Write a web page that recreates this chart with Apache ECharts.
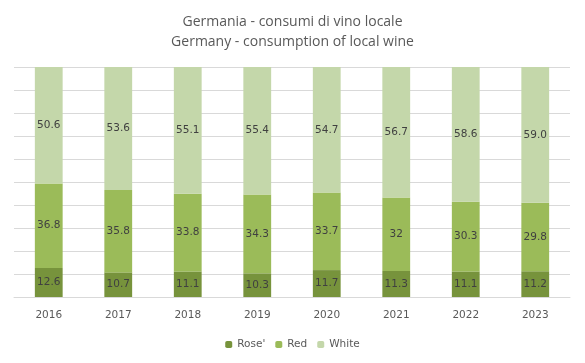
<!DOCTYPE html>
<html><head><meta charset="utf-8">
<script src="https://cdn.jsdelivr.net/npm/echarts@6/dist/echarts.min.js"></script>
<style>html,body{margin:0;padding:0;background:#fff}#c{width:585px;height:363px}</style>
</head><body><div id="c"></div>
<script>
const years = ['2016','2017','2018','2019','2020','2021','2022','2023'];
const rose = [12.6, 10.7, 11.1, 10.3, 11.7, 11.3, 11.1, 11.2];
const red = [36.8, 35.8, 33.8, 34.3, 33.7, 32, 30.3, 29.8];
const white = [50.6, 53.6, 55.1, 55.4, 54.7, 56.7, 58.6, 59.0];
const roseLabels = ['12.6','10.7','11.1','10.3','11.7','11.3','11.1','11.2'];
const redLabels = ['36.8','35.8','33.8','34.3','33.7','32','30.3','29.8'];
const whiteLabels = ['50.6','53.6','55.1','55.4','54.7','56.7','58.6','59.0'];

const chart = echarts.init(document.getElementById('c'));
const titleFont = '"Open Sans", "Liberation Sans", sans-serif';
const font = '"DejaVu Sans", sans-serif';
function mk(name, data, labels, color) {
  return {
    name, type: 'bar', stack: 'a', data, barWidth: '40%',
    itemStyle: { color },
    label: { show: true, position: 'inside', color: '#404040', fontSize: 10.5, fontFamily: font,
      formatter: p => labels[p.dataIndex] }
  };
}
chart.setOption({
  animation: false,
  title: {
    text: 'Germania - consumi di vino locale\nGermany - consumption of local wine',
    left: 'center', top: 7,
    textStyle: { fontSize: 14, fontWeight: 'normal', color: '#595959', fontFamily: titleFont, lineHeight: 20 }
  },
  legend: {
    bottom: 8, left: 'center', itemWidth: 7, itemHeight: 7, itemGap: 10,
    textStyle: { fontSize: 10.5, color: '#595959', fontFamily: font },
    data: ["Rose'", 'Red', 'White']
  },
  grid: { left: 14, right: 15, top: 67, bottom: 66 },
  xAxis: {
    type: 'category', data: years,
    axisLine: { lineStyle: { color: '#d9d9d9' } },
    axisTick: { show: false },
    axisLabel: { color: '#595959', fontSize: 10.5, fontFamily: font, margin: 13 }
  },
  yAxis: {
    type: 'value', min: 0, max: 100, interval: 10,
    axisLabel: { show: false }, axisLine: { show: false }, axisTick: { show: false },
    splitLine: { lineStyle: { color: '#d9d9d9' } }
  },
  series: [
    mk("Rose'", rose, roseLabels, '#77933C'),
    mk('Red', red, redLabels, '#9BBB59'),
    mk('White', white, whiteLabels, '#C4D7AA')
  ]
});
</script></body></html>
